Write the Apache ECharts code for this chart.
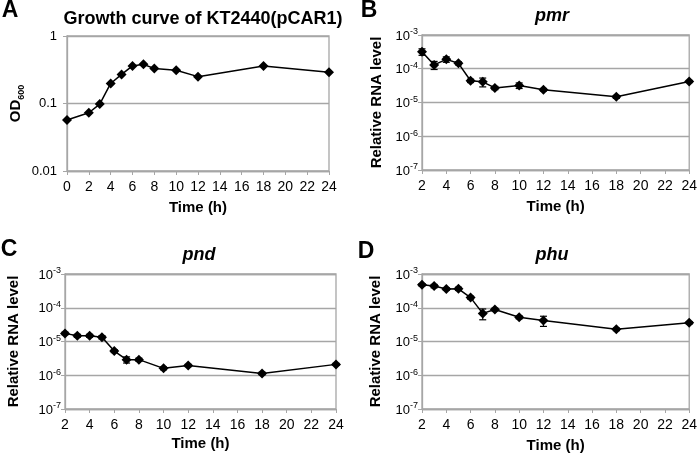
<!DOCTYPE html>
<html><head><meta charset="utf-8">
<script src="https://cdn.jsdelivr.net/npm/echarts@6/dist/echarts.min.js"></script>
<style>html,body{margin:0;padding:0;background:#fff}#c{width:700px;height:454px}</style>
</head><body><div id="c"></div>
<script>
// ---- data ----
var timeA = [0, 2, 3, 4, 5, 6, 7, 8, 10, 12, 18, 24];
var odA = [0.057, 0.073, 0.098, 0.198, 0.27, 0.36, 0.38, 0.33, 0.31, 0.25, 0.36, 0.29];

var timeRNA = [2, 3, 4, 5, 6, 7, 8, 10, 12, 18, 24];
var pmr = [3.2e-4, 1.3e-4, 1.9e-4, 1.45e-4, 4.4e-5, 4.1e-5, 2.7e-5, 3.2e-5, 2.4e-5, 1.47e-5, 4.2e-5];
var pmrErr = [7e-5, 3.5e-5, 3.5e-5, 1.5e-5, 5e-6, 1.2e-5, 3e-6, 6e-6, 2e-6, 1.5e-6, 3e-6];
var pnd = [1.74e-5, 1.48e-5, 1.48e-5, 1.34e-5, 5.2e-6, 2.9e-6, 2.9e-6, 1.6e-6, 1.95e-6, 1.13e-6, 2.1e-6];
var pndErr = [1.5e-6, 1.5e-6, 1.5e-6, 1.5e-6, 5e-7, 6e-7, 3e-7, 1.5e-7, 1.5e-7, 1e-7, 1.5e-7];
var phu = [4.8e-4, 4.4e-4, 3.6e-4, 3.65e-4, 2.0e-4, 6.8e-5, 8.9e-5, 5.2e-5, 4.2e-5, 2.3e-5, 3.6e-5];
var phuErr = [4e-5, 5e-5, 3e-5, 4e-5, 2e-5, 2.4e-5, 8e-6, 5e-6, 1.4e-5, 2e-6, 3e-6];

var yTicksA = [0.01, 0.1, 1];
var yTicksRNA = [1e-7, 1e-6, 1e-5, 1e-4, 1e-3];

// ---- chart ----
var FONT = '"Liberation Sans", Arial, sans-serif';
var GREY = '#a6a6a6';
var chart = echarts.init(document.getElementById('c'));

var grids = [
  {left: 67, top: 36, width: 262, height: 135},
  {left: 422, top: 35, width: 271, height: 135},
  {left: 65, top: 274, width: 271, height: 135},
  {left: 422, top: 274, width: 271, height: 135}
];

function xAxisFor(i, min, gap) {
  return {
    gridIndex: i, type: 'value', min: min, max: 24, interval: 2,
    axisLine: {lineStyle: {color: GREY, width: 1.3}},
    axisTick: {show: true, length: 4, lineStyle: {color: GREY}},
    splitLine: {show: false},
    axisLabel: {color: '#000', fontSize: 14, fontFamily: FONT, margin: 9},
    name: 'Time (h)', nameLocation: 'middle', nameGap: gap,
    nameTextStyle: {color: '#000', fontSize: 15, fontWeight: 'bold', fontFamily: FONT}
  };
}
function nearestTick(v, ticks) {
  var best = ticks[0];
  ticks.forEach(function (t) { if (Math.abs(Math.log10(t) - Math.log10(v)) < Math.abs(Math.log10(best) - Math.log10(v))) best = t; });
  return best;
}
function yAxisRNA(i, gap) {
  return {
    gridIndex: i, type: 'log', logBase: 10, min: yTicksRNA[0], max: yTicksRNA[yTicksRNA.length - 1],
    axisLine: {show: true, lineStyle: {color: GREY, width: 1.3}},
    axisTick: {show: true, length: 4, lineStyle: {color: GREY}},
    splitLine: {show: true, lineStyle: {color: GREY, width: 1.3}},
    axisLabel: {
      margin: 4,
      formatter: function (v) {
        var t = nearestTick(v, yTicksRNA);
        return '{b|10}{s|' + Math.round(Math.log10(t)) + '}';
      },
      rich: {
        b: {fontSize: 13, fontFamily: FONT, color: '#000', lineHeight: 15, verticalAlign: 'bottom'},
        s: {fontSize: 9, fontFamily: FONT, color: '#000', lineHeight: 9, verticalAlign: 'top'}
      }
    },
    name: 'Relative RNA level', nameLocation: 'middle', nameGap: gap,
    nameTextStyle: {color: '#000', fontSize: 15, fontWeight: 'bold', fontFamily: FONT}
  };
}

function errSeries(i, xs, ys, es) {
  return {
    type: 'custom', xAxisIndex: i, yAxisIndex: i, z: 3,
    data: xs.map(function (x, k) { return [x, ys[k], ys[k] - es[k], ys[k] + es[k]]; }),
    renderItem: function (params, api) {
      var lo = api.coord([api.value(0), api.value(2)]);
      var hi = api.coord([api.value(0), api.value(3)]);
      var w = 3.5;
      var st = {stroke: '#000', lineWidth: 1.2};
      return {type: 'group', children: [
        {type: 'line', shape: {x1: lo[0], y1: lo[1], x2: hi[0], y2: hi[1]}, style: st},
        {type: 'line', shape: {x1: lo[0] - w, y1: lo[1], x2: lo[0] + w, y2: lo[1]}, style: st},
        {type: 'line', shape: {x1: hi[0] - w, y1: hi[1], x2: hi[0] + w, y2: hi[1]}, style: st}
      ]};
    }
  };
}
function lineSeries(i, xs, ys) {
  return {
    type: 'line', xAxisIndex: i, yAxisIndex: i, z: 4,
    data: xs.map(function (x, k) { return [x, ys[k]]; }),
    symbol: 'diamond', symbolSize: 10, showSymbol: true,
    lineStyle: {color: '#000', width: 1.5},
    itemStyle: {color: '#000'},
    animation: false
  };
}

function txt(x, y, text, size, italic) {
  return {type: 'text', x: x, y: y, style: {
    text: text, fill: '#000', align: 'center', verticalAlign: 'middle',
    font: (italic ? 'italic ' : '') + 'bold ' + size + 'px ' + FONT
  }};
}

var option = {
  animation: false,
  backgroundColor: '#fff',
  grid: grids.map(function (g) { return Object.assign({show: true, borderColor: GREY, borderWidth: 1.3, backgroundColor: 'transparent'}, g); }),
  xAxis: [xAxisFor(0, 0, 29), xAxisFor(1, 2, 29), xAxisFor(2, 2, 27), xAxisFor(3, 2, 29)],
  yAxis: [
    {
      gridIndex: 0, type: 'log', logBase: 10, min: yTicksA[0], max: yTicksA[yTicksA.length - 1],
      axisLine: {show: true, lineStyle: {color: GREY, width: 1.3}},
      axisTick: {show: true, length: 4, lineStyle: {color: GREY}},
      splitLine: {show: true, lineStyle: {color: GREY, width: 1.3}},
      axisLabel: {color: '#000', fontSize: 13, fontFamily: FONT, margin: 10,
        formatter: function (v) { return String(nearestTick(v, yTicksA)); }},
      name: '{b|OD}{s|600}', nameLocation: 'middle', nameGap: 41,
      nameTextStyle: {rich: {
        b: {fontSize: 15, fontWeight: 'bold', fontFamily: FONT, color: '#000', lineHeight: 18, verticalAlign: 'top'},
        s: {fontSize: 9, fontWeight: 'bold', fontFamily: FONT, color: '#000', lineHeight: 9, verticalAlign: 'bottom'}
      }}
    },
    yAxisRNA(1, 38), yAxisRNA(2, 44), yAxisRNA(3, 39)
  ],
  graphic: [
    txt(10, 11, 'A', 23), txt(369, 11, 'B', 23), txt(9, 250, 'C', 23), txt(366, 252, 'D', 23),
    txt(203, 19, 'Growth curve of KT2440(pCAR1)', 18),
    txt(552, 16, 'pmr', 18, true), txt(199, 255, 'pnd', 18, true), txt(552, 255, 'phu', 18, true)
  ],
  series: [
    lineSeries(0, timeA, odA),
    errSeries(1, timeRNA, pmr, pmrErr), lineSeries(1, timeRNA, pmr),
    errSeries(2, timeRNA, pnd, pndErr), lineSeries(2, timeRNA, pnd),
    errSeries(3, timeRNA, phu, phuErr), lineSeries(3, timeRNA, phu)
  ]
};
chart.setOption(option);
</script>
</body></html>
